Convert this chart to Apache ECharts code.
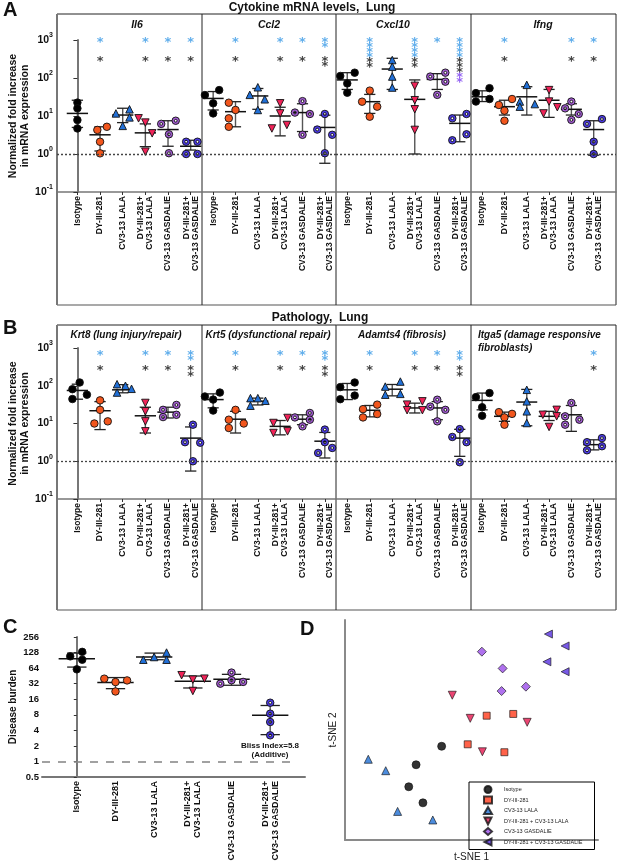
<!DOCTYPE html>
<html>
<head>
<meta charset="utf-8">
<script src="https://cdn.jsdelivr.net/npm/echarts@6/dist/echarts.min.js"></script>
<style>
  html, body { margin: 0; padding: 0; background: #fff; }
  #main { width: 620px; height: 868px; }
</style>
</head>
<body>
<div id="main"></div>
<script>
// group names (x categories)
const groups = ['Isotype', 'DY-III-281', 'CV3-13 LALA', 'DY-III-281+\nCV3-13 LALA', 'CV3-13 GASDALIE', 'DY-III-281+\nCV3-13 GASDALIE'];
const groupsOneLine = ['Isotype', 'DY-III-281', 'CV3-13 LALA', 'DY-III-281 + CV3-13 LALA', 'CV3-13 GASDALIE', 'DY-III-281 + CV3-13 GASDALIE'];

// ---- A: cytokine mRNA (fold increase) ----
const il6 = [[22.5, 15.9, 7.8, 4.7], [4.3, 5.2, 2.1, 1.04], [11.7, 15, 9.2, 5.5], [8.7, 6.7, 3.5, 1.15], [6.2, 7.5, 3.3, 1.05], [2.1, 2.1, 1.0, 1.0]];
const il6Jit = [[0, 0, 0, 0], [-0.12, 0.3, 0, 0], [-0.3, 0.3, 0.3, 0], [-0.3, 0, 0.3, 0], [-0.3, 0.34, 0.04, 0.04], [-0.2, 0.3, -0.2, 0.3]];
const il6Mean = [11.7, 3.2, 10.6, 3.6, 4.4, 1.6];
const il6Sd = [[5, 26], [1.2, 5.2], [6.7, 16], [1.56, 6.2], [1.6, 7.5], [1.27, 2.3]];

const ccl2 = [[35.6, 48, 21.6, 11.7], [22.4, 14.4, 8.7, 5.2], [57, 36, 27.5, 14.4], [21.6, 11.7, 4.7, 5.8], [24.6, 12.3, 11.3, 3.2], [11.3, 4.4, 3.2, 1.05]];
const ccl2Jit = [[-0.37, 0.27, 0, 0], [-0.3, 0, -0.3, -0.3], [0, -0.36, 0.31, 0], [0, 0, -0.37, 0.3], [0, -0.34, 0.33, 0], [0, -0.34, 0.33, 0]];
const ccl2Mean = [29, 13, 33.7, 10, 12.3, 5.0];
const ccl2Sd = [[14.4, 44], [5.2, 23.8], [15, 53], [3, 17], [3.9, 21], [0.57, 10.5]];

const cxcl10 = [[113, 138, 72, 41], [46.5, 23.8, 17.6, 9.6], [297, 199, 109, 56], [62, 26, 15, 4.3], [109, 138, 80, 36], [8.7, 11.3, 3.3, 2.3]];
const cxcl10Jit = [[-0.31, 0.33, 0, 0], [0, -0.34, 0.33, 0], [0, 0, 0, 0], [0, 0, 0, 0], [-0.31, 0.36, 0.36, 0], [-0.33, 0.3, 0.3, -0.33]];
const cxcl10Mean = [89, 23.8, 172, 27.4, 92, 6.4];
const cxcl10Sd = [[50, 138], [11.7, 37], [50, 330], [1.0, 89], [50, 130], [2.1, 10.6]];

const ifng = [[40, 54, 24, 28], [19.5, 28, 13.8, 7.5], [66, 24, 17.6, 20.6], [48, 24, 11.7, 17], [24, 15.9, 11.3, 7.9], [6.2, 8.3, 2.1, 1]];
const ifngJit = [[-0.28, 0.33, -0.28, 0.33], [-0.25, 0.34, 0, 0], [0, -0.31, -0.31, 0.36], [0, 0, -0.25, 0.37], [0, -0.28, 0.33, 0], [-0.3, 0.37, 0, 0]];
const ifngMean = [32, 17.6, 32, 26, 15, 4.4];
const ifngSd = [[24, 46], [10.6, 26], [10.6, 59], [9.2, 50], [10.6, 21], [0.93, 7.5]];

// ---- B: pathology mRNA ----
const krt8 = [[122, 81, 58, 44.5], [41, 23, 10, 11.4], [110, 100, 83, 66], [35, 21, 11.4, 6.2], [23, 31, 17, 14.8], [9.3, 3.2, 3.1, 1]];
const krt8Jit = [[0.1, -0.22, 0.42, -0.22], [0, 0, -0.25, 0.34], [-0.25, 0.12, 0.39, -0.25], [0, 0, 0, 0], [-0.22, 0.37, 0.37, -0.22], [0.1, -0.25, 0.42, 0.1]];
const krt8Mean = [75, 21.8, 78, 16, 20, 4.1];
const krt8Sd = [[44, 110], [6.9, 38], [65, 107], [5.6, 27], [14, 27], [0.55, 8.1]];

const krt5 = [[52, 66, 43, 22], [23, 12.6, 7.6, 10], [47, 47, 40, 29.6], [10.3, 14, 5.6, 6.2], [14.5, 8.4, 19, 12.6], [6.9, 3.2, 1.66, 2.25]];
const krt5Jit = [[-0.37, 0.3, 0, 0], [0, -0.3, -0.3, 0.37], [-0.33, 0, 0.34, -0.33], [-0.3, 0.33, -0.3, 0.33], [-0.34, 0, 0.33, 0.33], [0, 0, -0.3, 0.33]];
const krt5Mean = [43, 13, 39, 8.4, 13, 3.4];
const krt5Sd = [[26, 61], [5.6, 21], [31, 47], [5, 12], [9.3, 17], [1.22, 5.8]];

const adamts4 = [[92, 122, 44, 55], [24, 31.6, 14.5, 17.8], [95, 129, 58, 61], [31.6, 38.6, 22.5, 22.5], [28, 42.6, 23, 11.4], [4.4, 7.1, 3.2, 0.94]];
const adamts4Jit = [[-0.31, 0.33, -0.31, 0.33], [-0.3, 0.33, -0.3, 0.33], [-0.31, 0.36, -0.31, 0.36], [-0.34, 0.34, -0.34, 0.34], [-0.31, 0, 0.36, 0], [-0.33, 0, 0.3, 0]];
const adamts4Mean = [78, 22.4, 81, 25.8, 25.8, 4.1];
const adamts4Sd = [[43, 115], [15, 30], [54, 108], [19, 34.6], [12.6, 38], [1.35, 7]];

const itga5 = [[50, 64, 27, 16], [20, 18, 14.5, 9.3], [78, 38.6, 21, 10.3], [17, 23, 15.5, 8.1], [35, 15.5, 9.3, 12.6], [3.2, 4.1, 1.95, 2.5]];
const itga5Jit = [[-0.28, 0.33, 0, 0], [-0.25, 0.34, 0, 0], [0, 0, 0, 0], [-0.28, 0.34, 0.34, 0], [0, -0.28, -0.28, 0.36], [-0.3, 0.37, -0.3, 0.37]];
const itga5Mean = [41, 15.5, 37, 15.5, 17, 2.75];
const itga5Sd = [[23, 64], [11.4, 20], [8.7, 80], [12, 21], [6.2, 30], [2.0, 3.7]];

// significance stars (count per group): blue, black, purple
const il6Stars = [[0, 1, 0, 1, 1, 1], [0, 1, 0, 1, 1, 1], [0, 0, 0, 0, 0, 0]];
const ccl2Stars = [[0, 1, 0, 1, 1, 2], [0, 1, 0, 1, 1, 2], [0, 0, 0, 0, 0, 0]];
const cxcl10Stars = [[0, 4, 0, 4, 1, 4], [0, 2, 0, 2, 0, 3], [0, 0, 0, 0, 0, 2]];
const ifngStars = [[0, 1, 0, 0, 1, 1], [0, 1, 0, 0, 1, 1], [0, 0, 0, 0, 0, 0]];
const krt8Stars = [[0, 1, 0, 1, 1, 2], [0, 1, 0, 1, 1, 2], [0, 0, 0, 0, 0, 0]];
const krt5Stars = [[0, 1, 0, 1, 1, 2], [0, 1, 0, 1, 1, 2], [0, 0, 0, 0, 0, 0]];
const adamts4Stars = [[0, 1, 0, 1, 1, 2], [0, 1, 0, 1, 1, 2], [0, 0, 0, 0, 0, 0]];
const itga5Stars = [[0, 0, 0, 0, 0, 1], [0, 0, 0, 0, 0, 1], [0, 0, 0, 0, 0, 0]];

// ---- C: disease burden ----
const burden = [[108, 132, 93, 60.6], [40, 37, 34.4, 22.6], [93, 105, 128, 93], [46.6, 38.3, 40, 23.1], [32, 37.3, 34.6, 52.4], [13.7, 8.4, 5.8, 3.2]];
const burdenJit = [[-0.17, 0.14, 0.14, 0], [-0.29, 0.3, 0, 0], [-0.28, 0, 0.32, 0.32], [-0.29, 0, 0.3, 0], [-0.29, 0, 0.3, 0], [0, 0, 0, 0]];
const burdenMean = [97, 33.6, 105, 35.5, 38.8, 7.8];
const burdenSd = [[67, 125], [25.6, 42], [93, 125], [26.4, 45], [29.8, 48.5], [3.3, 12.1]];

// ---- D: t-SNE ----
const tsne = [
  [[38.2, 42.6], [28.1, 34.2], [25.2, 24.2], [30.8, 16.9]],
  [[56.0, 56.5], [66.5, 57.3], [48.5, 43.5], [63.0, 39.9]],
  [[9.2, 36.7], [16.1, 31.5], [20.8, 13.0], [34.7, 9.1]],
  [[42.4, 65.8], [49.5, 55.3], [54.3, 40.1], [72.0, 53.5]],
  [[54.1, 85.6], [62.3, 78.0], [61.9, 67.7], [71.5, 69.7]],
  [[80.4, 93.6], [87.0, 88.2], [79.8, 81.0], [87.0, 76.5]]
];

const FONT = '"Liberation Sans", Arial, sans-serif';
const symDot = 'path://M0,-10A10,10 0 1,1 0,10A10,10 0 1,1 0,-10ZM0,-3.6A3.6,3.6 0 1,0 0,3.6A3.6,3.6 0 1,0 0,-3.6Z';
const triDown = 'path://M0,0L10,0L5,10Z';
const triLeft = 'path://M10,0L10,10L0,5Z';
const dotStyle = [
  { symbol: 'circle', color: '#000000', rot: 0 },
  { symbol: 'circle', color: '#f2561d', rot: 0 },
  { symbol: 'triangle', color: '#2170d8', rot: 0 },
  { symbol: 'triangle', color: '#f02358', rot: 180 },
  { symbol: symDot, color: '#a15bd0', rot: 0 },
  { symbol: symDot, color: '#4b3ae6', rot: 0 }
];
const tsneStyle = [
  { symbol: 'circle', color: '#000000', size: 8 },
  { symbol: 'rect', color: '#ff3b1c', size: 7 },
  { symbol: 'triangle', color: '#1f6fd4', size: 8 },
  { symbol: triDown, color: '#e5174f', size: 8 },
  { symbol: 'diamond', color: '#9b4dea', size: 9 },
  { symbol: triLeft, color: '#5630e0', size: 8 }
];

const grids = [], xAxes = [], yAxes = [], series = [];

function supLabel(v) {
  const e = Math.round(Math.log10(v));
  return '{b|10}{s|' + e + '}';
}

function addGrid(x0, x1, top, height) {
  grids.push({ left: x0, top: top, width: x1 - x0, height: height });
  return grids.length - 1;
}

function xCatAxis(gi, xmin, xmax, opts) {
  xAxes.push(Object.assign({
    type: 'value', gridIndex: gi, min: xmin, max: xmax,
    splitLine: { show: false },
    axisLine: { show: true, onZero: false, lineStyle: { color: '#777', width: 1.5 } },
    axisTick: { show: true, customValues: [0, 1, 2, 3, 4, 5], length: 3, lineStyle: { color: '#333' } },
    axisLabel: {
      show: true, customValues: [0, 1, 2, 3, 4, 5], rotate: 90, margin: 4,
      formatter: v => groups[Math.round(v)] || '',
      fontFamily: FONT, fontWeight: 'bold', fontSize: 8.5, lineHeight: 9, color: '#111'
    }
  }, opts || {}));
}

function dotPlot(gi, key, vals, jit, mean, sd, size) {
  // error bars: mean line, SD line + caps
  series.push({
    type: 'custom', xAxisIndex: gi, yAxisIndex: gi, silent: true, z: 2,
    data: mean.map((m, k) => [k, m, sd[k][0], sd[k][1]]),
    renderItem: (p, api) => {
      const x = api.value(0);
      const m = api.coord([x, api.value(1)]);
      const lo = api.coord([x, api.value(2)]);
      const hi = api.coord([x, api.value(3)]);
      const unit = api.coord([x + 0.5, api.value(1)])[0] - api.coord([x - 0.5, api.value(1)])[0];
      const mw = unit * 0.47, cw = unit * 0.25;
      const bar = { stroke: '#555', lineWidth: 1.4 };
      return {
        type: 'group', children: [
          { type: 'line', shape: { x1: m[0], y1: lo[1], x2: m[0], y2: hi[1] }, style: bar },
          { type: 'line', shape: { x1: m[0] - cw, y1: lo[1], x2: m[0] + cw, y2: lo[1] }, style: { stroke: '#222', lineWidth: 1.3 } },
          { type: 'line', shape: { x1: m[0] - cw, y1: hi[1], x2: m[0] + cw, y2: hi[1] }, style: { stroke: '#222', lineWidth: 1.3 } },
          { type: 'line', shape: { x1: m[0] - mw, y1: m[1], x2: m[0] + mw, y2: m[1] }, style: { stroke: '#111', lineWidth: 1.5 } }
        ]
      };
    }
  });
  vals.forEach((g, k) => {
    const st = dotStyle[k];
    series.push({
      type: 'scatter', name: key + '-' + k, xAxisIndex: gi, yAxisIndex: gi, silent: true, z: 3,
      symbol: st.symbol, symbolRotate: st.rot, symbolSize: size,
      itemStyle: { color: st.color, borderColor: '#111', borderWidth: 0.9, opacity: 1 },
      data: g.map((v, j) => [k + jit[k][j], v])
    });
  });
}

function starSeries(gi, stars, top, blackTop, step, refLine) {
  const cols = ['#3a9ae6', '#111111', '#7a3ff0'];
  const items = [];
  for (let k = 0; k < 6; k++) {
    let y = top;
    for (let i = 0; i < stars[0][k]; i++) { items.push({ value: [k, Math.pow(10, y)], label: { color: cols[0] } }); y -= step; }
    y = Math.min(blackTop, top - stars[0][k] * step);
    for (let i = 0; i < stars[1][k]; i++) { items.push({ value: [k, Math.pow(10, y)], label: { color: cols[1] } }); y -= step; }
    for (let i = 0; i < stars[2][k]; i++) { items.push({ value: [k, Math.pow(10, y)], label: { color: cols[2] } }); y -= step; }
  }
  series.push({
    type: 'scatter', xAxisIndex: gi, yAxisIndex: gi, silent: true, symbolSize: 0.01, z: 4,
    data: items,
    label: { show: true, position: 'inside', formatter: '*', fontSize: 13, fontWeight: 'bold', fontFamily: '"DejaVu Sans", sans-serif', offset: [0, 3] },
    markLine: refLine
  });
}

const dotLine = {
  silent: true, symbol: 'none', label: { show: false },
  lineStyle: { type: [2, 2], color: '#444', width: 1.3 },
  data: [{ yAxis: 1 }]
};

// layout of the four sub-panels in A and B
const subX = [[57, 202, -0.9, 5.5], [202, 336, -0.5, 5.5], [336, 471, -0.5, 5.5], [471, 616, -0.5, 6.0]];

function mrnaFigure(top, height, panels, starTop, blackTop, step) {
  panels.forEach((pn, i) => {
    const [x0, x1, xmin, xmax] = subX[i];
    const gi = addGrid(x0, x1, top, height);
    xCatAxis(gi, xmin, xmax);
    yAxes.push({
      type: 'log', logBase: 10, gridIndex: gi, min: 0.1, max: 1000,
      show: i === 0,
      name: i === 0 ? 'Normalized fold increase\nin mRNA expression' : '',
      nameLocation: 'middle', nameGap: 26,
      nameTextStyle: { fontFamily: FONT, fontWeight: 'bold', fontSize: 10.5, lineHeight: 12, color: '#111' },
      splitLine: { show: false },
      axisLine: { show: true, lineStyle: { color: '#777', width: 2 } },
      axisTick: { show: true, length: 4, lineStyle: { color: '#333' } },
      axisLabel: {
        margin: 4, formatter: supLabel,
        rich: {
          b: { fontFamily: FONT, fontWeight: 'bold', fontSize: 10.5, color: '#111' },
          s: { fontFamily: FONT, fontWeight: 'bold', fontSize: 7, color: '#111', verticalAlign: 'top', lineHeight: 16 }
        }
      }
    });
    dotPlot(gi, pn[0], pn[1], pn[2], pn[3], pn[4], 7.5);
    starSeries(gi, pn[5], starTop, blackTop, step, dotLine);
  });
}

mrnaFigure(40, 152, [
  ['il6', il6, il6Jit, il6Mean, il6Sd, il6Stars],
  ['ccl2', ccl2, ccl2Jit, ccl2Mean, ccl2Sd, ccl2Stars],
  ['cxcl10', cxcl10, cxcl10Jit, cxcl10Mean, cxcl10Sd, cxcl10Stars],
  ['ifng', ifng, ifngJit, ifngMean, ifngSd, ifngStars]
], 3.0, 2.52, 0.13);

mrnaFigure(348, 151, [
  ['krt8', krt8, krt8Jit, krt8Mean, krt8Sd, krt8Stars],
  ['krt5', krt5, krt5Jit, krt5Mean, krt5Sd, krt5Stars],
  ['adamts4', adamts4, adamts4Jit, adamts4Mean, adamts4Sd, adamts4Stars],
  ['itga5', itga5, itga5Jit, itga5Mean, itga5Sd, itga5Stars]
], 2.89, 2.48, 0.15);

// ---- C ----
const gC = addGrid(42, 305, 637, 140);
xCatAxis(gC, -0.9, 5.9, { axisTick: { show: false } });
xAxes[xAxes.length - 1].axisLine.lineStyle = { color: '#777', width: 2 };
xAxes[xAxes.length - 1].axisLabel.fontSize = 9;
xAxes[xAxes.length - 1].axisLabel.lineHeight = 10;
yAxes.push({
  type: 'log', logBase: 2, gridIndex: gC, min: 0.5, max: 256, splitNumber: 9,
  name: 'Disease burden', nameLocation: 'middle', nameGap: 24,
  nameTextStyle: { fontFamily: FONT, fontWeight: 'bold', fontSize: 10, color: '#111' },
  splitLine: { show: false },
  axisLine: { show: true, lineStyle: { color: '#777', width: 2 } },
  axisTick: { show: true, length: 3, lineStyle: { color: '#333' } },
  axisLabel: {
    margin: 3, fontFamily: FONT, fontWeight: 'bold', fontSize: 9.5, color: '#111',
    formatter: v => (v < 0.9 ? '0.5' : String(Math.round(v)))
  }
});
dotPlot(gC, 'burden', burden, burdenJit, burdenMean, burdenSd, 7.5);
series.push({
  type: 'scatter', xAxisIndex: gC, yAxisIndex: gC, data: [], silent: true,
  markLine: {
    silent: true, symbol: 'none', label: { show: false },
    lineStyle: { type: [8, 8], color: '#8a8a8a', width: 1.6 },
    data: [[{ coord: [-0.9, 1] }, { coord: [5.7, 1] }]]
  }
});

// ---- D ----
const gD = addGrid(345, 598, 620, 220);
xAxes.push({
  type: 'value', gridIndex: gD, min: 0, max: 100,
  name: 't-SNE 1', nameLocation: 'middle', nameGap: 12,
  nameTextStyle: { fontFamily: FONT, fontSize: 10, color: '#222' },
  splitLine: { show: false }, axisTick: { show: false }, axisLabel: { show: false },
  axisLine: { show: true, lineStyle: { color: '#8a8a8a', width: 2 } }
});
yAxes.push({
  type: 'value', gridIndex: gD, min: 0, max: 100,
  name: 't-SNE 2', nameLocation: 'middle', nameGap: 7,
  nameTextStyle: { fontFamily: FONT, fontSize: 10, color: '#222' },
  splitLine: { show: false }, axisTick: { show: false }, axisLabel: { show: false },
  axisLine: { show: true, lineStyle: { color: '#8a8a8a', width: 2 } }
});
tsne.forEach((pts, k) => {
  const st = tsneStyle[k];
  series.push({
    type: 'scatter', name: groupsOneLine[k], xAxisIndex: gD, yAxisIndex: gD, silent: true,
    symbol: st.symbol, symbolSize: st.size,
    itemStyle: { color: st.color, borderColor: '#111', borderWidth: 0.8 },
    data: pts
  });
});

// frames, titles and annotations
const boxLine = { stroke: '#222', lineWidth: 1 };
function frame(y0, y1) {
  const els = [
    { type: 'line', shape: { x1: 57, y1: y0, x2: 616, y2: y0 }, style: boxLine },
    { type: 'line', shape: { x1: 616, y1: y0, x2: 616, y2: y1 }, style: boxLine },
    { type: 'line', shape: { x1: 57, y1: y1, x2: 616, y2: y1 }, style: { stroke: '#555', lineWidth: 1.2 } },
    { type: 'line', shape: { x1: 57, y1: y0, x2: 57, y2: y1 }, style: { stroke: '#777', lineWidth: 2 } }
  ];
  [202, 336, 471].forEach(x => els.push({ type: 'line', shape: { x1: x, y1: y0, x2: x, y2: y1 }, style: boxLine }));
  return els;
}
function txt(x, y, text, size, opts) {
  return {
    type: 'text', x: x, y: y, silent: true,
    style: Object.assign({ text: text, fontFamily: FONT, fontSize: size, fontWeight: 'bold', fill: '#111', align: 'center', verticalAlign: 'middle' }, opts || {})
  };
}
const ital = { fontStyle: 'italic' };
const graphics = [].concat(frame(14, 305), frame(325, 610), [
  txt(3, 10, 'A', 20, { align: 'left' }),
  txt(312, 8, 'Cytokine mRNA levels,  Lung', 12),
  txt(137, 25, 'Il6', 10.5, ital),
  txt(269, 25, 'Ccl2', 10.5, ital),
  txt(393, 25, 'Cxcl10', 10.5, ital),
  txt(543, 25, 'Ifng', 10.5, ital),
  txt(3, 328, 'B', 20, { align: 'left' }),
  txt(320, 318, 'Pathology,  Lung', 12),
  txt(126, 335, 'Krt8 (lung injury/repair)', 10, ital),
  txt(268, 335, 'Krt5 (dysfunctional repair)', 10, ital),
  txt(402, 335, 'Adamts4 (fibrosis)', 10, ital),
  txt(478, 335, 'Itga5 (damage responsive', 10, { fontStyle: 'italic', align: 'left' }),
  txt(478, 348, 'fibroblasts)', 10, { fontStyle: 'italic', align: 'left' }),
  txt(3, 627, 'C', 20, { align: 'left' }),
  txt(300, 629, 'D', 20, { align: 'left' }),
  txt(270, 746, 'Bliss Index=5.8', 8),
  txt(270, 755, '(Additive)', 8)
]);

const chart = echarts.init(document.getElementById('main'), null, { renderer: 'canvas' });
chart.setOption({
  animation: false,
  backgroundColor: '#fff',
  grid: grids,
  xAxis: xAxes,
  yAxis: yAxes,
  legend: {
    data: groupsOneLine,
    left: 469, top: 782, orient: 'vertical',
    itemWidth: 8, itemHeight: 7, itemGap: 1.5,
    padding: [3, 12, 3, 14],
    borderColor: '#000', borderWidth: 1,
    textStyle: { fontFamily: FONT, fontSize: 5.5, color: '#222', padding: [0, 0, 0, 7] },
    selectedMode: false
  },
  series: series,
  graphic: graphics
});
</script>
</body>
</html>
